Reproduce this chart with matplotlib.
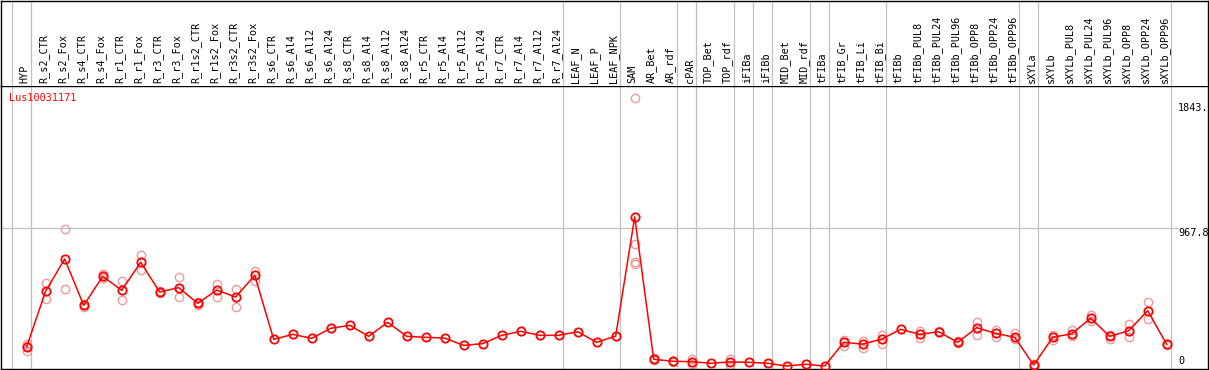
import numpy as np
import matplotlib
matplotlib.use("Agg")
import matplotlib.pyplot as plt

gene = "Lus10031171"
samples = ["HYP", "R_s2_CTR", "R_s2_Fox", "R_s4_CTR", "R_s4_Fox", "R_r1_CTR", "R_r1_Fox",
           "R_r3_CTR", "R_r3_Fox", "R_r1s2_CTR", "R_r1s2_Fox", "R_r3s2_CTR", "R_r3s2_Fox",
           "R_s6_CTR", "R_s6_Al4", "R_s6_Al12", "R_s6_Al24", "R_s8_CTR", "R_s8_Al4",
           "R_s8_Al12", "R_s8_Al24", "R_r5_CTR", "R_r5_Al4", "R_r5_Al12", "R_r5_Al24",
           "R_r7_CTR", "R_r7_Al4", "R_r7_Al12", "R_r7_Al24", "LEAF_N", "LEAF_P", "LEAF_NPK",
           "SAM", "AR_Bet", "AR_rdf", "cPAR", "TOP_Bet", "TOP_rdf", "iFIBa", "iFIBb",
           "MID_Bet", "MID_rdf", "tFIBa", "tFIB_Gr", "tFIB_Li", "tFIB_Bi", "tFIBb",
           "tFIBb_PUL8", "tFIBb_PUL24", "tFIBb_PUL96", "tFIBb_OPP8", "tFIBb_OPP24",
           "tFIBb_OPP96", "sXYLa", "sXYLb", "sXYLb_PUL8", "sXYLb_PUL24", "sXYLb_PUL96",
           "sXYLb_OPP8", "sXYLb_OPP24", "sXYLb_OPP96"]

means = [142, 530, 754, 430, 633, 535, 731, 523, 554, 444, 537, 488, 640,
         193, 228, 200, 270, 291, 214, 312, 214, 207, 202, 151, 163,
         221, 249, 221, 221, 246, 172, 216,
         1047, 54, 40, 37, 26, 35, 33, 26, 7, 19, 7, 172, 160, 195, 263,
         228, 246, 172, 274, 235, 207, 14, 207, 232, 340, 214, 253, 393, 158]

replicates = [[160, 150, 115], [584, 477], [966, 542], [440, 420], [647, 619], [600, 465],
              [779, 679], [530, 516], [626, 491], [454, 430], [579, 491], [544, 421],
              [672, 602],
              [], [], [], [], [], [], [], [], [], [], [], [], [], [], [], [], [], [], [],
              [1875, 856, 730, 718], [60, 46], [42, 38], [54, 21], [], [54, 12], [], [],
              [], [], [], [191, 147], [184, 130], [221, 160], [],
              [253, 202], [250, 242], [178, 166], [314, 225], [258, 211], [239, 193],
              [18, 10], [225, 188], [258, 216], [365, 319], [225, 198], [300, 207],
              [451, 337], [162, 154]]

# grid separators drawn after these sample indices
group_ends = [-1, 0, 28, 31, 34, 35, 37, 38, 39, 41, 42, 45, 52, 53, 60]
y_mid = 967.8
y_top = 1843
y_top_label = "1843."

W, H = 1209, 370
fig = plt.figure(figsize=(W / 100, H / 100), dpi=100)
# pixel geometry
left_px, right_px = 1, 1208
split_px, bottom_px = 85.7, 369
ax = fig.add_axes([left_px / W, (H - bottom_px) / H, (right_px - left_px) / W, (bottom_px - split_px) / H])
hx = fig.add_axes([left_px / W, (H - split_px) / H, (right_px - left_px) / W, (split_px - 0.5) / H])

x = np.arange(len(samples))
xlim = ((left_px - 26.7) / 19, (right_px - 26.7) / 19)
pxv = 0.1433
ylim = ((367 - bottom_px) / pxv, (367 - split_px) / pxv)

mono = "DejaVu Sans Mono"
grid_c = "#c0c0c0"

for a in (ax, hx):
    a.set_xlim(*xlim)
    a.set_xticks([])
    a.set_yticks([])
    for s in a.spines.values():
        s.set_linewidth(1.0)
        s.set_color("black")
    for g in group_ends:
        a.axvline(g + 0.2, color=grid_c, lw=0.9, zorder=0)

hx.set_ylim(0, 1)
hx.spines["bottom"].set_visible(False)
for i, name in enumerate(samples):
    hx.text(i - 0.1, 0.03, name, rotation=90, ha="center", va="bottom",
            fontsize=7.3, family=mono, color="black")

ax.set_ylim(*ylim)
ax.hlines(y_mid, xlim[0], (1178 - 26.7) / 19, color=grid_c, lw=0.9, zorder=0)

rx = [i for i, r in enumerate(replicates) for _ in r]
ry = [v for r in replicates for v in r]
ax.plot(rx, ry, ls="none", marker="o", ms=6, mfc="none", mec="#f09a9a", mew=1.0, zorder=2)
ax.plot(x, means, color="red", lw=1.1, zorder=3)
ax.plot(x, means, ls="none", marker="o", ms=6.0, mfc="none", mec="red", mew=1.3, zorder=4)

ax.text(8 / 1207, 0.955, gene, transform=ax.transAxes, color="red", fontsize=7.3,
        family=mono, ha="left", va="center")
tx = (1178 - 26.7) / 19
ax.text(tx, y_top, y_top_label, ha="left", va="top", fontsize=7.3, family=mono)
ax.text(tx, y_mid, "%.1f" % y_mid, ha="left", va="top", fontsize=7.3, family=mono)
ax.text(tx, 4, "0", ha="left", va="bottom", fontsize=7.3, family=mono)

fig.savefig("out.png", dpi=100)
